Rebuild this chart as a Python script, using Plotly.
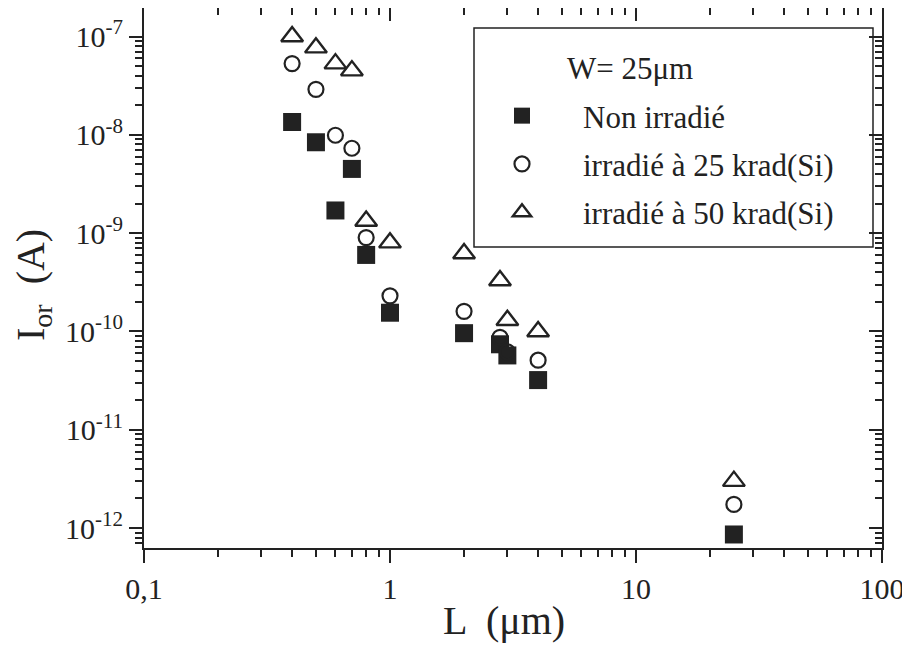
import plotly.graph_objects as go

# Data
L_non = [0.4, 0.5, 0.6, 0.7, 0.8, 1.0, 2.0, 2.8, 3.0, 4.0, 25.0]
I_non = [1.35e-8, 8.4e-9, 1.7e-9, 4.5e-9, 6.0e-10, 1.55e-10, 9.6e-11, 7.4e-11, 5.7e-11, 3.2e-11, 8.6e-13]

L_25 = [0.4, 0.5, 0.6, 0.7, 0.8, 1.0, 2.0, 2.8, 3.0, 4.0, 25.0]
I_25 = [5.3e-8, 2.9e-8, 9.9e-9, 7.3e-9, 9.0e-10, 2.3e-10, 1.6e-10, 8.7e-11, 6.2e-11, 5.1e-11, 1.74e-12]

L_50 = [0.4, 0.5, 0.6, 0.7, 0.8, 1.0, 2.0, 2.8, 3.0, 4.0, 25.0]
I_50 = [1.0e-7, 7.7e-8, 5.3e-8, 4.5e-8, 1.33e-9, 8.0e-10, 6.2e-10, 3.3e-10, 1.3e-10, 1.0e-10, 3.0e-12]

x_tickvals = [0.1, 1, 10, 100]
x_ticktext = ["0,1", "1", "10", "100"]
y_tickvals = [1e-12, 1e-11, 1e-10, 1e-9, 1e-8, 1e-7]
y_ticktext = ["10<sup>-12</sup>", "10<sup>-11</sup>", "10<sup>-10</sup>",
              "10<sup>-9</sup>", "10<sup>-8</sup>", "10<sup>-7</sup>"]

legend_title = "W= 25μm"
names = ["Non irradié", "irradié à 25 krad(Si)", "irradié à 50 krad(Si)"]
x_title = "L  (μm)"
y_title = "I<sub>or</sub>  (A)"

INK = "#222222"
FONT = "Liberation Serif"

x_minor = [m * 10 ** e for e in (-1, 0, 1) for m in range(2, 10)]
y_minor = [m * 10 ** e for e in range(-13, -6) for m in range(2, 10)]

xr = [-1, 2]
yr = [-12.203, -6.71]

# The page body adds an 8 px offset; the figure is sized to fit the window.
OFF = 8
FW, FH = 910 - OFF, 646 - OFF
L_PX, R_PX, T_PX, B_PX = 136, 28, 0, 98
PW = FW - L_PX - R_PX
PH = FH - T_PX - B_PX


def px_x(sx):
    return (sx - OFF - L_PX) / PW


def px_y(sy):
    return (FH - B_PX - (sy - OFF)) / PH


fig = go.Figure()
fig.add_trace(go.Scatter(x=L_non, y=I_non, mode="markers", name=names[0], legendgroup="a",
                         marker=dict(symbol="square", size=18, color=INK,
                                     line=dict(width=0))))
fig.add_trace(go.Scatter(x=L_25, y=I_25, mode="markers", name=names[1], legendgroup="b",
                         marker=dict(symbol="circle-open", size=15, color=INK,
                                     line=dict(width=2.2, color=INK))))
fig.add_trace(go.Scatter(x=L_50, y=I_50, mode="markers", name=names[2], legendgroup="c",
                         marker=dict(symbol="triangle-up-open", size=19, color=INK,
                                     line=dict(width=2.4, color=INK))))
# invisible trace to anchor mirrored axes (inside ticks on top and right)
fig.add_trace(go.Scatter(x=[L_non[0]], y=[I_non[0]], xaxis="x2", yaxis="y2", mode="markers",
                         marker=dict(opacity=0), showlegend=False, hoverinfo="skip"))

axis_common = dict(type="log", showgrid=False, zeroline=False, showline=True, automargin=False,
                   linecolor=INK, linewidth=2, tickcolor=INK, tickwidth=2)
TICKFONT = dict(size=30, family=FONT, color=INK)

fig.update_layout(
    width=FW, height=FH,
    margin=dict(l=L_PX, r=R_PX, t=T_PX, b=B_PX, autoexpand=False),
    paper_bgcolor="white", plot_bgcolor="white",
    font=dict(family=FONT, color=INK, size=30),
    showlegend=True,
    xaxis=dict(**axis_common, range=xr, tickmode="array", tickvals=x_tickvals, ticktext=x_ticktext,
               ticks="outside", ticklen=13, ticklabeloverflow="allow",
               minor=dict(tickmode="array", tickvals=x_minor, ticks="outside", ticklen=7,
                          tickcolor=INK, tickwidth=2),
               tickfont=TICKFONT),
    yaxis=dict(**axis_common, range=yr, tickmode="array", tickvals=y_tickvals, ticktext=y_ticktext,
               ticks="outside", ticklen=13, ticklabeloverflow="allow",
               minor=dict(tickmode="array", tickvals=y_minor, ticks="outside", ticklen=7,
                          tickcolor=INK, tickwidth=2),
               tickfont=TICKFONT),
    xaxis2=dict(**axis_common, range=xr, overlaying="x", side="top", anchor="y2",
                tickmode="array", tickvals=x_tickvals, showticklabels=False,
                ticks="inside", ticklen=13,
                minor=dict(tickmode="array", tickvals=x_minor, ticks="inside", ticklen=7,
                           tickcolor=INK, tickwidth=2)),
    yaxis2=dict(**axis_common, range=yr, overlaying="y", side="right", anchor="x2",
                tickmode="array", tickvals=y_tickvals, showticklabels=False,
                ticks="inside", ticklen=13,
                minor=dict(tickmode="array", tickvals=y_minor, ticks="inside", ticklen=7,
                           tickcolor=INK, tickwidth=2)),
    legend=dict(x=px_x(461), y=px_y(89), xanchor="left", yanchor="top",
                bgcolor="rgba(0,0,0,0)", borderwidth=0,
                font=dict(size=31, family=FONT, color=INK),
                tracegroupgap=5, itemwidth=112),
    shapes=[dict(type="rect", xref="paper", yref="paper",
                 x0=px_x(474), x1=px_x(873), y0=px_y(247), y1=px_y(28),
                 line=dict(color=INK, width=1.5), fillcolor="rgba(0,0,0,0)")],
    annotations=[
        dict(text=legend_title, xref="paper", yref="paper", x=px_x(630), y=px_y(68),
             xanchor="center", yanchor="middle", showarrow=False,
             font=dict(size=31, family=FONT, color=INK)),
        dict(text=x_title, xref="paper", yref="paper", x=px_x(504), y=px_y(620),
             xanchor="center", yanchor="middle", showarrow=False, borderpad=0,
             font=dict(size=40, family=FONT, color=INK)),
        dict(text=y_title, xref="paper", yref="paper", x=px_x(33), y=px_y(285),
             xanchor="center", yanchor="middle", showarrow=False, textangle=-90, borderpad=0,
             font=dict(size=40, family=FONT, color=INK)),
    ],
)

fig.write_html("out.html")
